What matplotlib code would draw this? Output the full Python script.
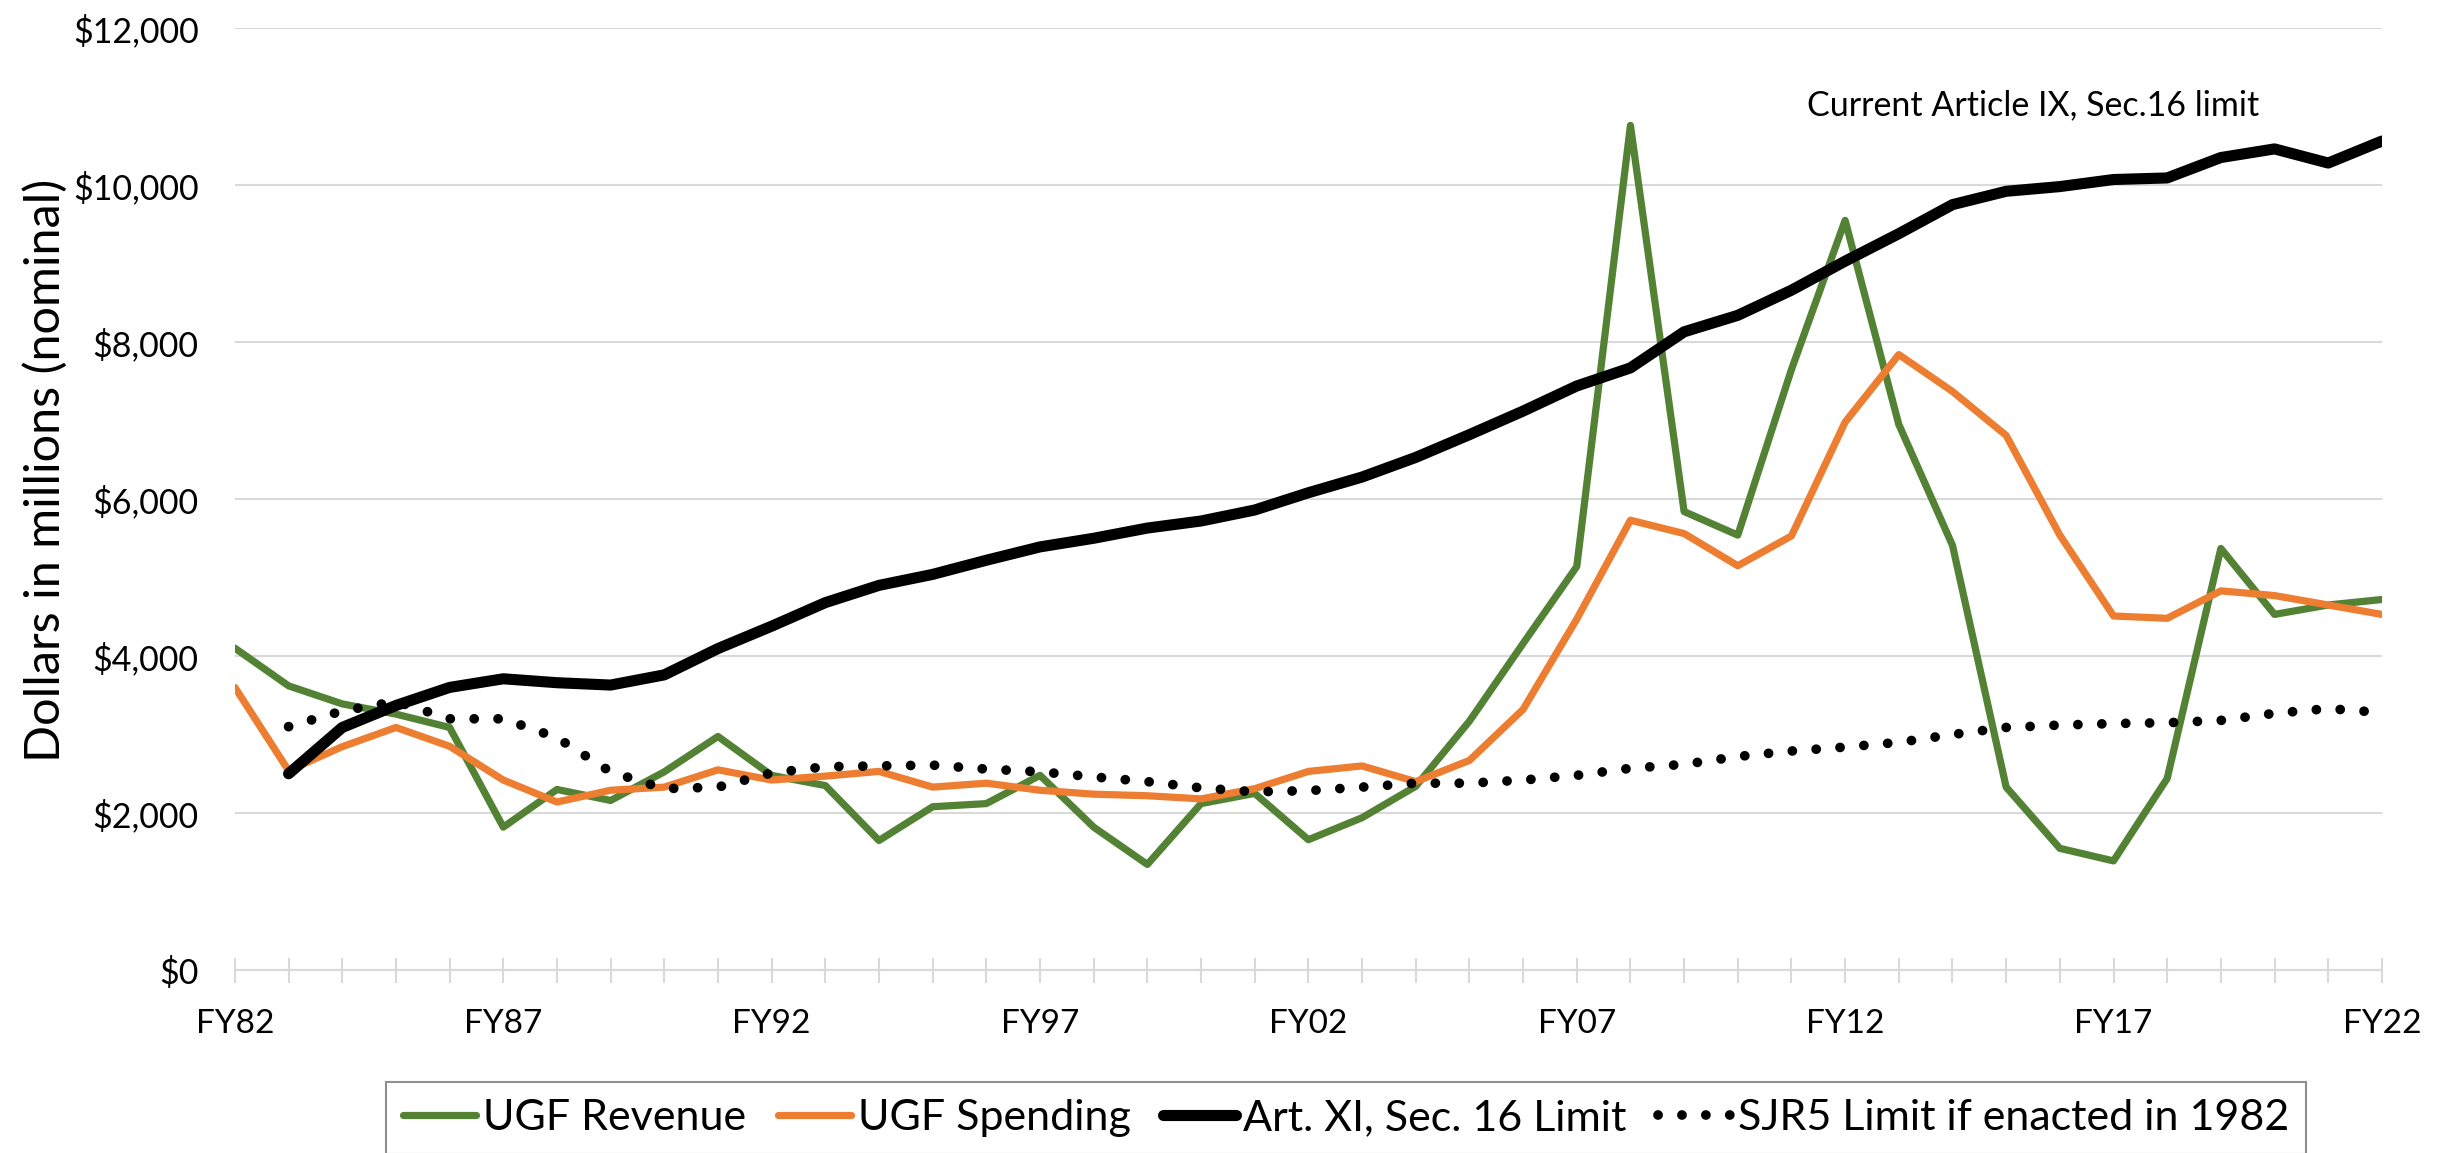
import matplotlib
matplotlib.use('Agg')
import matplotlib.pyplot as plt
import matplotlib.ticker as mticker
import numpy as np

# fiscal years FY82..FY22
years = list(range(1982, 2023))
tick_years = [1982, 1987, 1992, 1997, 2002, 2007, 2012, 2017, 2022]
tick_labels = ['FY82', 'FY87', 'FY92', 'FY97', 'FY02', 'FY07', 'FY12', 'FY17', 'FY22']

# $ millions, nominal
ugf_revenue = [4100, 3620, 3390, 3260, 3090, 1820, 2300, 2160, 2525, 2975, 2480,
               2350, 1650, 2080, 2120, 2480, 1820, 1345, 2120, 2250, 1660, 1940, 2340, 3170, 4160, 5140,
               10760, 5840, 5540, 7650, 9550, 6950, 5410, 2330, 1550, 1390, 2440, 5370, 4530, 4650, 4720]
ugf_spending = [3600, 2540, 2845, 3090, 2850, 2420, 2140, 2290, 2330, 2550, 2420,
                2470, 2530, 2330, 2380, 2290, 2240, 2220, 2180, 2310, 2530, 2600, 2400, 2670, 3320, 4470,
                5730, 5560, 5150, 5530, 6980, 7840, 7370, 6810, 5540, 4510, 4480, 4830, 4770, 4650, 4530]
# limits start in FY83
art_limit = [np.nan, 2500, 3090, 3370, 3600, 3710, 3660, 3630, 3760, 4095, 4380,
             4680, 4900, 5040, 5220, 5390, 5500, 5630, 5720, 5860, 6080, 6280, 6530, 6820, 7120, 7440,
             7670, 8130, 8340, 8660, 9030, 9380, 9750, 9920, 9980, 10070, 10090, 10350, 10460, 10280, 10560]
sjr5_limit = [np.nan, 3100, 3300, 3420, 3200, 3200, 2960, 2525, 2310, 2330, 2510,
              2590, 2600, 2610, 2560, 2525, 2460, 2400, 2320, 2270, 2285, 2330, 2380, 2380, 2420, 2480,
              2570, 2620, 2720, 2790, 2840, 2900, 3000, 3090, 3120, 3140, 3150, 3180, 3270, 3330, 3280]

plt.rcParams['font.family'] = ['Lato', 'DejaVu Sans']

fig = plt.figure(figsize=(24.52, 11.53), dpi=100)
ax = fig.add_axes([0.0958, 0.1587, 0.8756, 0.8170])

ax.plot(years, ugf_revenue, color='#548235', lw=5.2, label='UGF Revenue',
        solid_capstyle='round', solid_joinstyle='round')
ax.plot(years, ugf_spending, color='#ED7D31', lw=5.2, label='UGF Spending',
        solid_capstyle='round', solid_joinstyle='round')
ax.plot(years, art_limit, color='black', lw=8, label='Art. XI, Sec. 16 Limit',
        solid_capstyle='round', solid_joinstyle='round')
ax.plot(years, sjr5_limit, color='black', lw=7, linestyle=(0, (0.01, 2.45)),
        dash_capstyle='round', label='SJR5 Limit if enacted in 1982')

ax.text(2015.5, 11020, 'Current Article IX, Sec.16 limit', ha='center', va='center', fontsize=24.5)

ax.set_xlim(1982, 2022)
ax.set_ylim(0, 12000)
ax.set_yticks(range(0, 12001, 2000))
ax.yaxis.set_major_formatter(mticker.StrMethodFormatter('${x:,.0f}'))
ax.set_xticks(tick_years)
ax.set_xticklabels(tick_labels)
ax.set_xticks(years, minor=True)

ax.grid(axis='y', color='#D9D9D9', lw=1.5)
ax.set_axisbelow(True)
for s in ['top', 'right', 'left']:
    ax.spines[s].set_visible(False)
ax.spines['bottom'].set_color('#D9D9D9')
ax.spines['bottom'].set_linewidth(1.5)

ax.tick_params(axis='x', which='both', direction='inout', length=18, width=1.5,
               color='#D9D9D9', labelsize=24, pad=19)
ax.tick_params(axis='y', length=0, labelsize=24.5, pad=26)

ax.set_ylabel('Dollars in millions (nominal)', fontsize=35)
ax.yaxis.set_label_coords(-0.078, 0.53)

fig.legend(loc='upper center', bbox_to_anchor=(0.549, 0.0616), ncol=4, fontsize=31,
           frameon=True, fancybox=False, edgecolor='#8F8F8F', framealpha=1,
           handlelength=1.7, handletextpad=0.15, columnspacing=0.75, borderaxespad=0)
fig.legends[0].get_frame().set_linewidth(1.5)

fig.savefig('out.png', dpi=100)
